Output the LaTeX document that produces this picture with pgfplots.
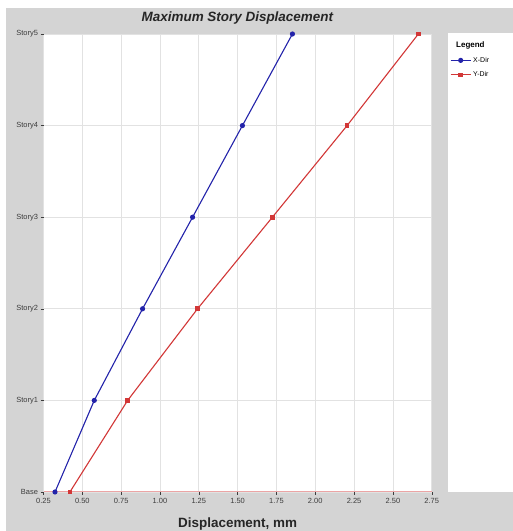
\documentclass[border=0pt]{standalone}
\usepackage{pgfplots}
\pgfplotsset{compat=1.18}
\usepackage{fontspec}
\setmainfont{Liberation Sans}
\definecolor{bggray}{RGB}{212,212,212}
\definecolor{xblue}{RGB}{35,35,170}
\definecolor{yred}{RGB}{210,55,55}
\definecolor{basepink}{RGB}{235,165,165}
\definecolor{gridgray}{RGB}{226,226,226}
\definecolor{ticktext}{RGB}{60,60,60}
\begin{document}
\begin{tikzpicture}[x=1bp,y=1bp]
\useasboundingbox (0,0) rectangle (513,531);
\fill[white] (0,0) rectangle (513,531);
\fill[bggray] (6,0) rectangle (513,523);
\fill[white] (448,39) rectangle (513,498);
\begin{axis}[
  at={(43.5bp,39bp)}, anchor=south west,
  scale only axis, width=388.2bp, height=458bp,
  xmin=0.25, xmax=2.75, ymin=0, ymax=5,
  axis background/.style={fill=white},
  xtick={0.25,0.5,...,2.75},
  ytick={0,1,2,3,4,5},
  yticklabels={Base,Story1,Story2,Story3,Story4,Story5},
  xticklabel style={/pgf/number format/fixed,/pgf/number format/fixed zerofill,/pgf/number format/precision=2},
  /pgf/number format/assume math mode=true,
  ticklabel style={font=\fontsize{7.5}{8}\selectfont, text=ticktext},
  yticklabel style={xshift=1bp},
  tick align=outside, major tick length=3bp,
  tick style={draw=ticktext, line width=0.4bp},
  xtick pos=bottom, ytick pos=left,
  grid=major,
  major grid style={draw=gridgray, line width=0.6bp},
  axis x line*=bottom, axis y line*=left,
  axis line style={-},
  x axis line style={draw=basepink, line width=1bp},
  y axis line style={draw=none},
  title={\textbf{\textit{Maximum Story Displacement}}},
  title style={at={(0.5,1)}, anchor=center, yshift=10bp, font=\fontsize{13.5}{15}\selectfont, text=black!85},
  xlabel={\textbf{Displacement, mm}},
  xlabel style={at={(0.5,0)}, anchor=center, yshift=-32bp, font=\fontsize{13.5}{15}\selectfont, text=black!85},
  legend style={at={(1.047,0.992)}, anchor=north west, draw=none, fill=none,
    font=\fontsize{7}{8}\selectfont, row sep=4bp, inner xsep=0pt},
  legend cell align=left,
  legend image code/.code={
    \draw[#1, mark repeat=2, mark phase=2] plot coordinates {(0bp,0bp) (10bp,0bp) (20bp,0bp)};},
  clip=false,
]
\addlegendimage{empty legend}
\addlegendentry{\hspace*{-17bp}\fontsize{8}{9}\selectfont\textbf{Legend}}
\addplot[color=xblue, line width=1.1bp, mark=*, mark size=2bp, mark options={fill=xblue}]
  coordinates {(0.324,0) (0.577,1) (0.888,2) (1.210,3) (1.531,4) (1.853,5)};
\addlegendentry{X-Dir}
\addplot[color=yred, line width=1.1bp, mark=square*, mark size=1.8bp, mark options={fill=yred}]
  coordinates {(0.42,0) (0.792,1) (1.242,2) (1.724,3) (2.205,4) (2.664,5)};
\addlegendentry{Y-Dir}
\end{axis}
\end{tikzpicture}
\end{document}
